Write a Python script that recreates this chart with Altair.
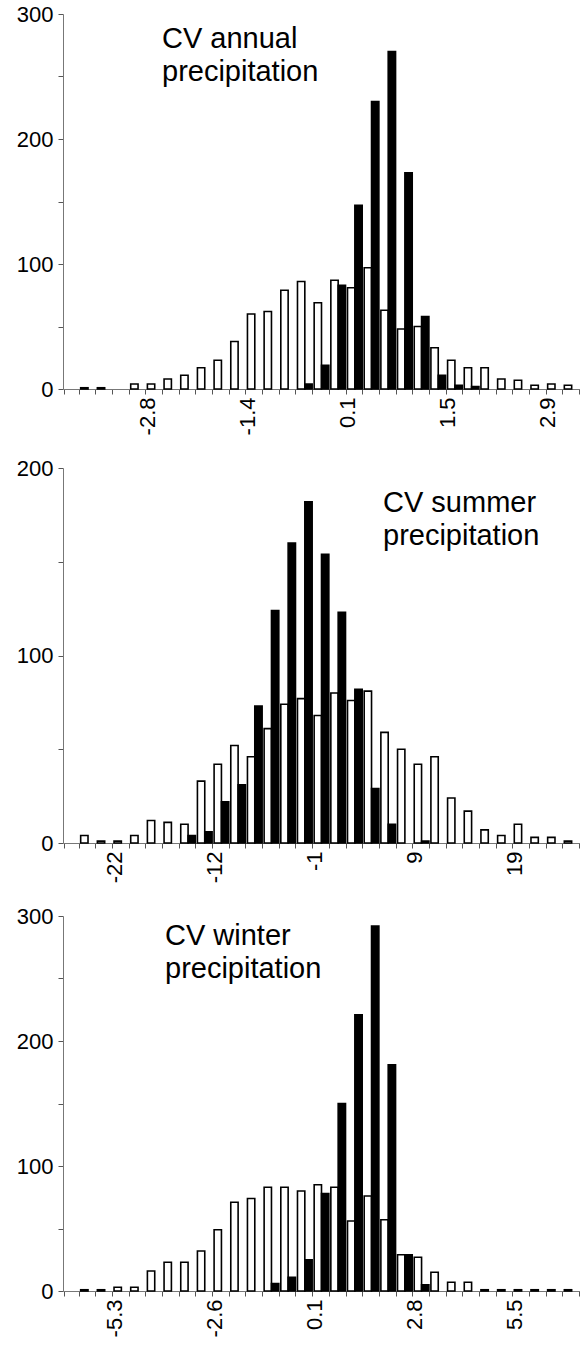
import altair as alt
import pandas as pd

FONT = "Liberation Sans"
bins = list(range(31))

# ---- CV annual precipitation ----
annual_white = [0, 1, 1, 0, 4, 4, 8, 11, 17, 23, 38, 60, 62, 79, 86, 69, 87, 81, 97, 63,
                48, 50, 33, 23, 17, 17, 8, 7, 3, 4, 3]
annual_black = [0, 0, 0, 0, 0, 0, 0, 0, 0, 0, 0, 0, 0, 0, 4, 19, 83, 147, 230, 270,
                173, 58, 11, 3, 2, 0, 0, 0, 0, 0, 0]
annual_tick_idx = [5, 11, 17, 23, 29]
annual_tick_lab = ["-2.8", "-1.4", "0.1", "1.5", "2.9"]

# ---- CV summer precipitation ----
summer_white = [0, 4, 1, 1, 4, 12, 11, 10, 33, 42, 52, 46, 61, 74, 77, 68, 80, 76, 81, 59,
                50, 42, 46, 24, 17, 7, 4, 10, 3, 3, 1]
summer_black = [0, 0, 0, 0, 0, 0, 0, 4, 6, 22, 31, 73, 124, 160, 182, 154, 123, 82, 29, 10,
                0, 1, 0, 0, 0, 0, 0, 0, 0, 0, 0]
summer_tick_idx = [3, 9, 15, 21, 27]
summer_tick_lab = ["-22", "-12", "-1", "9", "19"]

# ---- CV winter precipitation ----
winter_white = [0, 1, 1, 3, 3, 16, 23, 23, 32, 49, 71, 74, 83, 83, 80, 85, 83, 56, 76, 57,
                29, 27, 15, 7, 7, 1, 1, 1, 1, 1, 1]
winter_black = [0, 0, 0, 0, 0, 0, 0, 0, 0, 0, 0, 0, 6, 11, 25, 78, 150, 221, 292, 181,
                29, 5, 0, 0, 0, 0, 0, 0, 0, 0, 0]
winter_tick_idx = [3, 9, 15, 21, 27]
winter_tick_lab = ["-5.3", "-2.6", "0.1", "2.8", "5.5"]

series = ["white", "black"]


def panel(white, black, tick_idx, tick_lab, ymax, title, tx, ty):
    df = pd.DataFrame({
        "bin": bins * 2,
        "series": ["white"] * len(bins) + ["black"] * len(bins),
        "count": white + black,
    })
    x_expr = (f"indexof({tick_idx}, datum.value) >= 0 ? "
              f"{tick_lab}[indexof({tick_idx}, datum.value)] : ''")
    bars = alt.Chart(df).transform_filter("datum.count > 0").mark_bar(
        stroke="black", strokeWidth=1.6
    ).encode(
        x=alt.X("bin:O",
                scale=alt.Scale(domain=bins, paddingInner=0.12, paddingOuter=0.06),
                axis=alt.Axis(title=None, labelExpr=x_expr, labelAngle=270,
                              labelAlign="right", labelBaseline="alphabetic",
                              labelFontSize=22, labelFont=FONT, labelColor="black",
                              labelPadding=3, labelOverlap=False,
                              tickBand="extent", tickSize=5, tickColor="#555",
                              domainColor="#777", domainWidth=1)),
        xOffset=alt.XOffset("series:N", sort=series,
                            scale=alt.Scale(domain=series, paddingInner=0, paddingOuter=0)),
        y=alt.Y("count:Q",
                scale=alt.Scale(domain=[0, ymax], nice=False),
                axis=alt.Axis(title=None, values=list(range(0, ymax + 1, 50)),
                              labelExpr="datum.value % 100 === 0 ? datum.label : ''",
                              labelFontSize=22, labelFont=FONT, labelColor="black",
                              labelPadding=5, tickSize=5, tickColor="#555",
                              domainColor="#777", domainWidth=1, grid=False)),
        fill=alt.Fill("series:N", scale=alt.Scale(domain=series, range=["white", "black"]),
                      legend=None),
    )
    txt = alt.Chart(pd.DataFrame({"t": [title]})).mark_text(
        align="left", baseline="alphabetic", fontSize=29, font=FONT,
        lineBreak="\n", lineHeight=33, color="black"
    ).encode(x=alt.value(tx), y=alt.value(ty), text="t:N")
    return alt.layer(bars, txt).properties(width=517, height=375)


p1 = panel(annual_white, annual_black, annual_tick_idx, annual_tick_lab, 300,
           "CV annual\nprecipitation", 99, 34)
p2 = panel(summer_white, summer_black, summer_tick_idx, summer_tick_lab, 200,
           "CV summer\nprecipitation", 320, 44)
p3 = panel(winter_white, winter_black, winter_tick_idx, winter_tick_lab, 300,
           "CV winter\nprecipitation", 102, 29)

chart = alt.vconcat(p1, p2, p3, spacing=22).properties(
    padding={"left": 16, "top": 3, "right": 0, "bottom": 0}
).configure_view(stroke=None)

chart.save("out.html", embed_options={"renderer": "svg", "actions": False})
